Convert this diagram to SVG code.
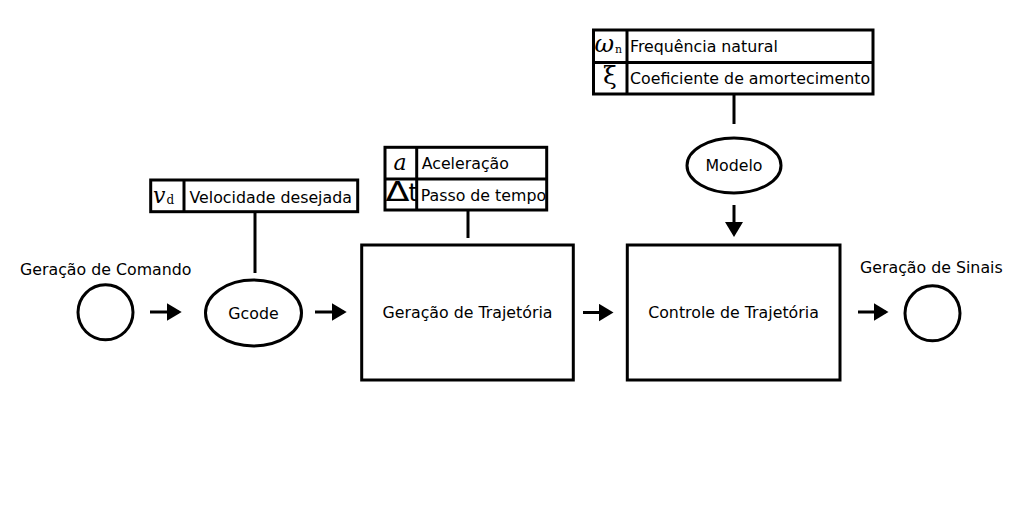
<svg xmlns="http://www.w3.org/2000/svg" width="1024" height="512" viewBox="0 0 1024 512">
<style>
.s{fill:none;stroke:#000;stroke-width:3}
.b{fill:#fff;stroke:#000;stroke-width:3}
.t{font-family:"DejaVu Sans","Liberation Sans",sans-serif;font-size:15.8px;fill:#000}
.m{font-family:"DejaVu Serif","Liberation Serif",serif;font-style:italic;fill:#000}
.ms{font-family:"DejaVu Serif","Liberation Serif",serif;fill:#000}
.g{font-family:"DejaVu Sans","Liberation Sans",sans-serif;fill:#000}
.c{fill:none;stroke:#000;stroke-width:3}
</style>
<defs>
<marker id="ah" markerUnits="userSpaceOnUse" markerWidth="15" markerHeight="18" refX="12" refY="9" orient="auto">
<path d="M0,0 L15,9 L0,18 z" fill="#000"/>
</marker>
</defs>
<rect width="1024" height="512" fill="#fff"/>

<g id="connectors">
<line class="c" x1="150" y1="312" x2="178.7" y2="312" marker-end="url(#ah)"/>
<line class="c" x1="315" y1="312" x2="343.7" y2="312" marker-end="url(#ah)"/>
<line class="c" x1="583" y1="312.5" x2="610.5" y2="312.5" marker-end="url(#ah)"/>
<line class="c" x1="858" y1="312" x2="885.5" y2="312" marker-end="url(#ah)"/>
<line class="c" x1="734" y1="205" x2="734" y2="234" marker-end="url(#ah)"/>
<line class="c" x1="255" y1="213" x2="255" y2="273"/>
<line class="c" x1="468" y1="211" x2="468" y2="238"/>
<line class="c" x1="734" y1="95" x2="734" y2="124"/>
</g>

<g id="geracao-comando">
<text class="t" x="20" y="275">Geração de Comando</text>
<circle class="s" cx="105.5" cy="312.3" r="27.5"/>
</g>

<g id="gcode">
<ellipse class="s" cx="253.5" cy="313" rx="48" ry="33"/>
<text class="t" x="253.5" y="318.5" text-anchor="middle">Gcode</text>
</g>

<g id="velocidade">
<rect class="b" x="150.7" y="180" width="207" height="31.7"/>
<line class="s" x1="184" y1="180" x2="184" y2="211.7"/>
<text class="m" x="153" y="203" font-size="22">v</text>
<text class="ms" x="166.5" y="204" font-size="12">d</text>
<text class="t" x="189.5" y="203">Velocidade desejada</text>
</g>

<g id="parametros-trajetoria">
<rect class="b" x="385" y="147.3" width="161.7" height="62.7"/>
<line class="s" x1="385" y1="179" x2="546.7" y2="179"/>
<line class="s" x1="416.7" y1="147.3" x2="416.7" y2="210"/>
<text class="m" x="400" y="170" font-size="22" text-anchor="middle">a</text>
<text class="t" x="421.7" y="168.5">Aceleração</text>
<text class="g" x="385.5" y="201" font-size="27" textLength="24" lengthAdjust="spacingAndGlyphs">Δ</text>
<text class="g" x="408.5" y="201" font-size="24">t</text>
<text class="t" x="420.7" y="200.5">Passo de tempo</text>
</g>

<g id="geracao-trajetoria">
<rect class="b" x="361.7" y="245" width="211.6" height="135"/>
<text class="t" x="467.5" y="318" text-anchor="middle">Geração de Trajetória</text>
</g>

<g id="parametros-modelo">
<rect class="b" x="593.5" y="30" width="279.5" height="64"/>
<line class="s" x1="593.5" y1="62.5" x2="873" y2="62.5"/>
<line class="s" x1="627" y1="30" x2="627" y2="94"/>
<text class="m" x="594.5" y="52" font-size="24">ω</text>
<text class="ms" x="615" y="53" font-size="11">n</text>
<text class="ms" x="610" y="84" font-size="25" text-anchor="middle">ξ</text>
<text class="t" x="630" y="51.5">Frequência natural</text>
<text class="t" x="630" y="83.5">Coeficiente de amortecimento</text>
</g>

<g id="modelo">
<ellipse class="s" cx="734" cy="165.5" rx="47" ry="27.5"/>
<text class="t" x="734" y="171" text-anchor="middle">Modelo</text>
</g>

<g id="controle-trajetoria">
<rect class="b" x="627.3" y="245" width="212.7" height="135"/>
<text class="t" x="733.5" y="318" text-anchor="middle">Controle de Trajetória</text>
</g>

<g id="geracao-sinais">
<text class="t" x="860" y="273">Geração de Sinais</text>
<circle class="s" cx="932.5" cy="313.3" r="27.5"/>
</g>
</svg>
